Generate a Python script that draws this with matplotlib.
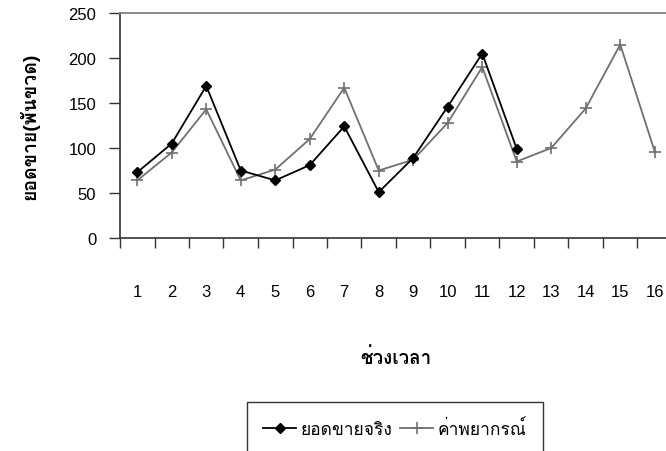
import numpy as np
import matplotlib
matplotlib.use('Agg')
import matplotlib.pyplot as plt
from matplotlib.ticker import FixedLocator, NullFormatter

plt.rcParams['font.family'] = ['Liberation Sans', 'Loma']

# data
periods = list(range(1, 17))
actual = [73, 105, 169, 75, 64, 81, 124, 51, 89, 146, 205, 99]
forecast = [64, 95, 143, 64, 76, 110, 167, 75, 87, 128, 190, 85, 100, 144, 215, 96]
y_ticks = [0, 50, 100, 150, 200, 250]

actual_label = 'ยอดขายจริง'
forecast_label = 'ค่าพยากรณ์'
x_title = 'ช่วงเวลา'
y_title = 'ยอดขาย(พันขวด)'

W, H = 666, 452
fig = plt.figure(figsize=(W / 100, H / 100), dpi=100)
# plot area runs past the right edge, as in the cropped original
ax = fig.add_axes([120 / W, 1 - 239 / H, 552 / W, 225 / H])

ax.plot(periods[:len(actual)], actual, color='black', lw=1.3, marker='D',
        markersize=5.5, label=actual_label, zorder=3)
ax.plot(periods, forecast, color='#707070', lw=1.3, marker='+',
        markersize=9, markeredgewidth=1.2, label=forecast_label, zorder=2)

ax.set_xlim(0.5, len(periods) + 0.5)
ax.set_ylim(0, 250)
ax.set_yticks(y_ticks)

# category labels in the middle, tick marks on the boundaries
ax.set_xticks(periods)
ax.set_xticklabels([str(p) for p in periods])
ax.xaxis.set_minor_locator(FixedLocator(np.arange(0.5, len(periods) + 1, 1)))
ax.xaxis.set_minor_formatter(NullFormatter())
ax.tick_params(axis='x', which='major', length=0, pad=33, labelsize=12, colors='black')
ax.tick_params(axis='x', which='minor', length=7, width=1, color='#333333', direction='out')
ax.tick_params(axis='y', length=8, width=1, color='#333333', pad=9, labelsize=12)

for side in ['left', 'bottom']:
    ax.spines[side].set_color('#333333')
    ax.spines[side].set_linewidth(1.2)
ax.spines['top'].set_color('#808080')
ax.spines['top'].set_linewidth(1.3)
ax.spines['right'].set_visible(False)

fig.text(29 / W, 1 - 126 / H, y_title, rotation=90, ha='center', va='center',
         fontsize=14, fontweight='bold')
fig.text(396 / W, 1 - 358 / H, x_title, ha='center', va='center',
         fontsize=13.5, fontweight='bold')

# legend box is cut by the bottom edge in the original
leg = fig.legend(loc='upper center', bbox_to_anchor=(395 / W, 1 - 403 / H),
                 ncol=2, fontsize=12.5, frameon=True, fancybox=False,
                 handlelength=1.9, handletextpad=0.25, columnspacing=0.45,
                 borderpad=0.95, borderaxespad=0)
leg.get_frame().set_edgecolor('black')
leg.get_frame().set_linewidth(1)

fig.savefig('out.png', dpi=100)
